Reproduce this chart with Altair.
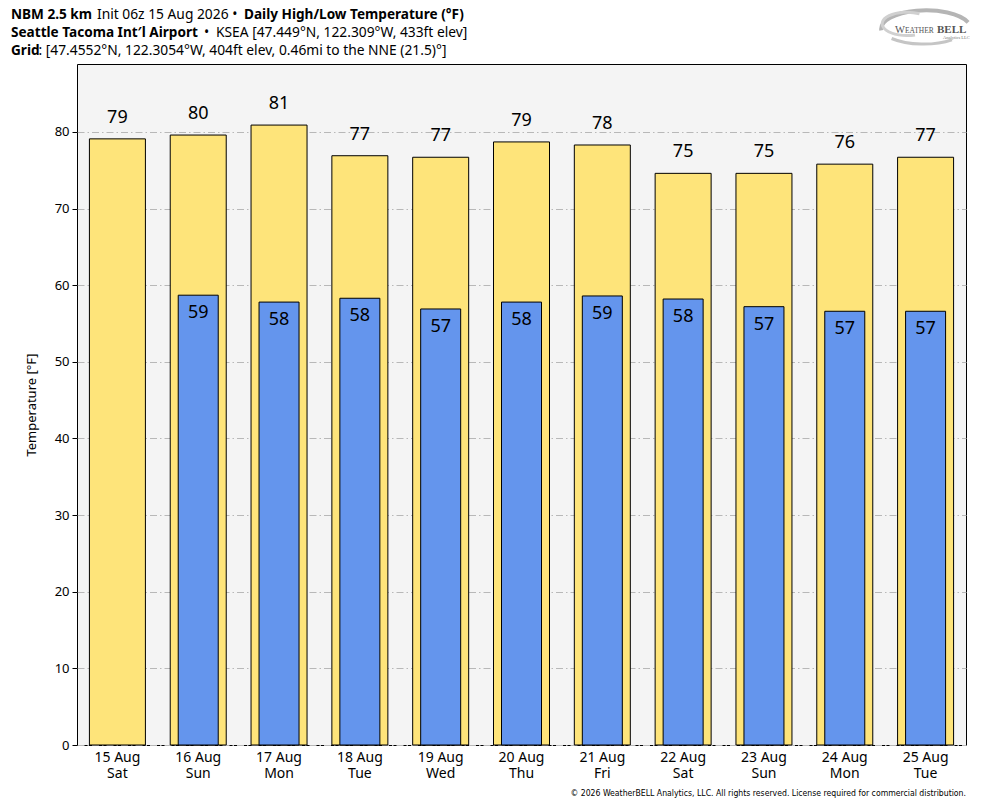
import altair as alt
import pandas as pd

days = ["15 Aug", "16 Aug", "17 Aug", "18 Aug", "19 Aug", "20 Aug",
        "21 Aug", "22 Aug", "23 Aug", "24 Aug", "25 Aug"]
weekdays = ["Sat", "Sun", "Mon", "Tue", "Wed", "Thu", "Fri", "Sat", "Sun", "Mon", "Tue"]
highs = [79.1, 79.6, 80.9, 76.9, 76.7, 78.7, 78.3, 74.6, 74.6, 75.8, 76.7]
lows = [None, 58.7, 57.8, 58.3, 56.9, 57.8, 58.6, 58.2, 57.2, 56.6, 56.6]
y_ticks = [0, 10, 20, 30, 40, 50, 60, 70, 80]

FONT = "Noto Sans"

labels = [f"{d}|{w}" for d, w in zip(days, weekdays)]
df = pd.DataFrame({
    "day": days,
    "label": labels,
    "high": highs,
    "low": lows,
})

x_enc = alt.X(
    "label:N", sort=labels,
    scale=alt.Scale(paddingInner=0, paddingOuter=0),
    axis=alt.Axis(title=None, labelExpr="split(datum.label, '|')", labelAngle=0,
                  ticks=False, domain=False, labelFontSize=14, labelFont=FONT,
                  labelColor="black", labelPadding=5, labelLineHeight=16, grid=False),
)
y_scale = alt.Scale(domain=[0, 88.87], nice=False, zero=True)
y_enc = alt.Y(
    "high:Q", scale=y_scale,
    axis=alt.Axis(title="Temperature [°F]", values=y_ticks, titleFont=FONT,
                  titleFontSize=13, titleFontWeight="normal", titleColor="black",
                  titlePadding=16, labelFont=FONT, labelFontSize=13, labelColor="black",
                  tickSize=5, tickColor="black", labelPadding=3, domain=False,
                  grid=True, gridColor="#b8b8b8", gridDash=[7, 3, 1.5, 3], gridWidth=1),
)

base = alt.Chart(df)

high_bars = base.mark_bar(size=56, color="#fee47a", stroke="black", strokeWidth=1).encode(
    x=x_enc, y=y_enc
)
high_text = base.mark_text(font=FONT, fontSize=18, baseline="alphabetic", dy=-16, color="black").encode(
    x=alt.X("label:N", sort=labels),
    y=alt.Y("high:Q", scale=y_scale),
    text=alt.Text("high:Q", format=".0f"),
)
low_df = df.dropna(subset=["low"])
low_bars = alt.Chart(low_df).mark_bar(size=40, color="#6495ed", stroke="black", strokeWidth=1).encode(
    x=alt.X("label:N", sort=labels),
    y=alt.Y("low:Q", scale=y_scale),
)
low_text = alt.Chart(low_df).mark_text(font=FONT, fontSize=18, baseline="alphabetic", dy=23, color="black").encode(
    x=alt.X("label:N", sort=labels),
    y=alt.Y("low:Q", scale=y_scale),
    text=alt.Text("low:Q", format=".0f"),
)

# header text segments (x, y relative to plot origin)
hdr = pd.DataFrame([
    {"t": "NBM 2.5 km", "x": -66, "y": -45, "w": "bold"},
    {"t": "Init 06z 15 Aug 2026 •", "x": 20, "y": -45, "w": "normal"},
    {"t": "Daily High/Low Temperature (°F)", "x": 167, "y": -45, "w": "bold"},
    {"t": "Seattle Tacoma Int′l Airport", "x": -66, "y": -27, "w": "bold"},
    {"t": "•", "x": 127, "y": -27, "w": "normal"},
    {"t": "KSEA [47.449°N, 122.309°W, 433ft elev]", "x": 139, "y": -27, "w": "normal"},
    {"t": "Grid", "x": -66, "y": -9.5, "w": "bold"},
    {"t": ": [47.4552°N, 122.3054°W, 404ft elev, 0.46mi to the NNE (21.5)°]", "x": -38.5, "y": -9.5, "w": "normal"},
])
hdr_b = alt.Chart(hdr[hdr.w == "bold"]).mark_text(
    font=FONT, fontSize=13.6, fontWeight="bold", align="left", baseline="alphabetic", color="black"
).encode(x=alt.X("x:Q", scale=None), y=alt.Y("y:Q", scale=None), text="t:N")
hdr_n = alt.Chart(hdr[hdr.w == "normal"]).mark_text(
    font=FONT, fontSize=13.8, align="left", baseline="alphabetic", color="black"
).encode(x=alt.X("x:Q", scale=None), y=alt.Y("y:Q", scale=None), text="t:N")

copyright_txt = alt.Chart(pd.DataFrame({"t": ["© 2026 WeatherBELL Analytics, LLC. All rights reserved. License required for commercial distribution."]})).mark_text(
    font="DejaVu Sans Condensed, Roboto Condensed, sans-serif", fontSize=8.65, align="right",
    baseline="alphabetic", color="black"
).encode(x=alt.value(889), y=alt.value(732), text="t:N")

# logo (grey swirl + wordmark)
swirl_outer = "M -0.95 0.12 A 1 0.42 0 0 1 0.98 -0.06"
swirl_bottom = "M 0.62 0.33 A 1 0.42 0 0 1 -0.72 0.3"
swirl_inner = "M -0.2 0.22 A 0.55 0.26 0 1 1 -0.1 -0.25"
logo_swirls = [
    alt.Chart(pd.DataFrame({"a": [1]})).mark_point(
        shape=p, filled=False, stroke=c, strokeWidth=w, size=8100, opacity=1
    ).encode(x=alt.value(847), y=alt.value(-39))
    for p, c, w in [(swirl_outer, "#b5b5b5", 4), (swirl_bottom, "#c5c5c5", 3), (swirl_inner, "#d0d0d0", 3)]
]
logo_w = alt.Chart(pd.DataFrame({"t": ["W"]})).mark_text(
    font="Liberation Serif", fontSize=10.5, align="left", baseline="alphabetic", color="#555"
).encode(x=alt.value(818), y=alt.value(-31), text="t:N")
logo_e = alt.Chart(pd.DataFrame({"t": ["EATHER"]})).mark_text(
    font="Liberation Serif", fontSize=7.5, align="left", baseline="alphabetic", color="#555"
).encode(x=alt.value(828), y=alt.value(-31), text="t:N")
logo_b = alt.Chart(pd.DataFrame({"t": ["BELL"]})).mark_text(
    font="Liberation Serif", fontSize=11, fontWeight="bold", align="left", baseline="alphabetic", color="#555"
).encode(x=alt.value(860), y=alt.value(-31), text="t:N")
logo_a = alt.Chart(pd.DataFrame({"t": ["Analytics LLC"]})).mark_text(
    font="Liberation Serif", fontSize=4.5, align="left", baseline="alphabetic", color="#777"
).encode(x=alt.value(866), y=alt.value(-25.5), text="t:N")

chart = alt.layer(
    high_bars, low_bars, high_text, low_text, hdr_b, hdr_n, copyright_txt,
    *logo_swirls, logo_w, logo_e, logo_b, logo_a
).properties(
    width=889, height=681,
    autosize=alt.AutoSizeParams(type="none"),
    padding={"left": 69, "top": 56, "right": 10, "bottom": 55},
    background="white",
).configure_view(
    stroke="black", strokeWidth=1, fill="#f4f4f4"
)

chart.save("out.html", embed_options={"renderer": "svg", "actions": False})
